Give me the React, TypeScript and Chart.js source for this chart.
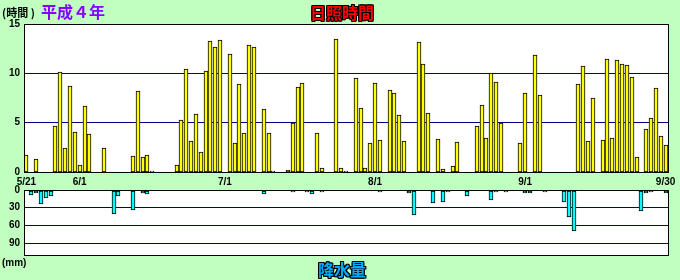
import React, { useEffect, useRef } from 'react';
import { Chart, registerables } from 'chart.js';
Chart.register(...registerables);

const _ = null;

// 日照時間 (hours) per day, 5/21 – 9/30
const sunMay = [1.7, _, 1.3, _, _, _, 4.7, 10.1, 2.4, 8.7, 4.1];
const sunJun = [0.7, 6.7, 3.9, _, _, 2.4, _, _, _, _, _, 1.6, 8.2, 1.5, 1.7, 0.1, _, _, _, _, 0.7, 5.3, 10.4, 3.1, 5.9, 2.0, 10.2, 13.3, 12.7, 13.4];
const sunJul = [_, 12.0, 2.9, 8.9, 4.0, 12.9, 12.7, _, 6.4, 4.0, 0.1, _, _, 0.2, 5.0, 8.6, 9.0, _, _, 4.0, 0.4, _, _, 13.5, 0.4, 0.1, _, 9.5, 6.5, 0.4, 2.9];
const sunAug = [9.0, 3.2, _, 8.3, 8.0, 5.8, 3.1, _, _, 13.2, 10.9, 6.0, _, 3.3, 0.3, _, 0.6, 3.0, _, _, _, 4.7, 6.8, 3.4, 10.0, 9.1, 5.0, _, _, _, 2.9];
const sunSep = [8.0, _, 11.9, 7.8, _, _, _, _, _, _, _, 8.9, 10.7, 3.1, 7.5, _, 3.2, 11.5, 3.4, 11.4, 10.9, 10.8, 9.6, 1.5, _, 4.4, 5.5, 8.5, 3.6, 2.7];

// 降水量 (mm) per day
const rainMay = [_, 8, 5, 23, 14, 10, _, _, _, _, _];
const rainJun = [_, _, _, _, 2, _, 2, 40, 10, _, 2, 33, _, 5, 7, _, _, _, _, _, _, _, _, _, _, _, _, _, _, _];
const rainJul = [_, _, _, _, 2, _, _, _, 7, _, _, _, _, _, 4, _, _, 4, 7, _, 4, 2, _, _, 2, 2, 2, _, _, _, 2];
const rainAug = [_, 4, _, _, _, _, 2, 5, 43, _, _, _, 22, 2, 20, 4, _, _, _, 10, _, _, _, _, 17, 4, _, 4, _, _, _];
const rainSep = [5, 5, _, 2, 4, _, _, _, 20, 45, 69, _, _, _, _, _, _, _, _, _, _, _, _, 2, 35, 5, 4, _, _, 5];

const monthNums = [5, 6, 7, 8, 9];
const monthStartDays = [21, 1, 1, 1, 1];
const shownLabels = ['5/21', '6/1', '7/1', '8/1', '9/1', '9/30'];
const sunTicks = [0, 5, 10, 15];
const rainTicks = [0, 30, 60, 90];

const sunMonths = [sunMay, sunJun, sunJul, sunAug, sunSep];
const rainMonths = [rainMay, rainJun, rainJul, rainAug, rainSep];
const labels: string[] = [];
sunMonths.forEach((arr, m) => arr.forEach((_v, k) => labels.push(`${monthNums[m]}/${monthStartDays[m] + k}`)));
const sunshine = sunMonths.flat();
const rain = rainMonths.flat();

const BAR_W = 4;

const framePlugin = {
  id: 'frame',
  beforeDraw(chart: any) {
    const { ctx, chartArea: a } = chart;
    ctx.save();
    ctx.fillStyle = '#FFFFFF';
    ctx.fillRect(a.left, a.top, a.right - a.left, a.bottom - a.top);
    ctx.restore();
  },
  beforeDatasetsDraw(chart: any) {
    // snap the library-computed bar rectangles to whole pixels for crisp edges
    chart.data.datasets.forEach((_d: any, di: number) => {
      chart.getDatasetMeta(di).data.forEach((el: any) => {
        if (el.skip) return;
        el.x = Math.round(el.x - BAR_W / 2) + BAR_W / 2;
        el.y = Math.round(el.y);
        el.base = Math.round(el.base);
      });
    });
  },
  afterDatasetsDraw(chart: any) {
    const { ctx, chartArea: a } = chart;
    ctx.save();
    ctx.strokeStyle = '#000000';
    ctx.lineWidth = 1;
    ctx.strokeRect(Math.round(a.left) + 0.5, Math.round(a.top) + 0.5, Math.round(a.right - a.left), Math.round(a.bottom - a.top));
    ctx.restore();
  },
};

const tickFont = { family: '"Liberation Sans", Arial, sans-serif', size: 10, weight: 'bold' as const };
const outline =
  '1px 0 0 #000, -1px 0 0 #000, 0 1px 0 #000, 0 -1px 0 #000, 1px 1px 0 #000, -1px -1px 0 #000, 1px -1px 0 #000, -1px 1px 0 #000';

export default function App() {
  const topRef = useRef<HTMLCanvasElement>(null);
  const botRef = useRef<HTMLCanvasElement>(null);

  useEffect(() => {
    const gridColor = (c: any) => (c.tick && c.tick.value !== 0 && c.tick.value !== 15 ? '#000080' : 'rgba(0,0,0,0)');
    const top = new Chart(topRef.current as HTMLCanvasElement, {
      type: 'bar',
      data: {
        labels,
        datasets: [
          {
            data: sunshine as any,
            backgroundColor: '#FFFF00',
            borderColor: '#000000',
            borderWidth: 1,
            borderSkipped: false,
            barThickness: BAR_W,
          },
        ],
      },
      options: {
        animation: false,
        responsive: false,
        layout: { padding: { top: 24, right: 12, left: 0, bottom: 0 } },
        plugins: { legend: { display: false }, tooltip: { enabled: false } },
        scales: {
          x: {
            grid: { display: false, drawTicks: false },
            border: { display: false },
            ticks: {
              autoSkip: false,
              maxRotation: 0,
              minRotation: 0,
              padding: 4,
              color: '#000',
              font: tickFont,
              callback: (_v: any, i: number) => (shownLabels.includes(labels[i]) ? labels[i] : ''),
            },
            afterFit: (s: any) => {
              s.height = 18;
            },
          },
          y: {
            min: 0,
            max: 15,
            afterBuildTicks: (s: any) => {
              s.ticks = sunTicks.map((v) => ({ value: v }));
            },
            ticks: { padding: 4, color: '#000', font: tickFont },
            grid: { color: gridColor, drawTicks: false, lineWidth: 1 },
            border: { display: false },
            afterFit: (s: any) => {
              s.width = 24;
            },
          },
        },
      },
      plugins: [framePlugin],
    } as any);

    const bot = new Chart(botRef.current as HTMLCanvasElement, {
      type: 'bar',
      data: {
        labels,
        datasets: [
          {
            data: rain as any,
            backgroundColor: '#00FFFF',
            borderColor: '#000000',
            borderWidth: 1,
            borderSkipped: false,
            barThickness: BAR_W,
          },
        ],
      },
      options: {
        animation: false,
        responsive: false,
        layout: { padding: { top: 9, right: 12, left: 0, bottom: 25 } },
        plugins: { legend: { display: false }, tooltip: { enabled: false } },
        scales: {
          x: { display: false },
          y: {
            min: 0,
            max: 110,
            reverse: true,
            afterBuildTicks: (s: any) => {
              s.ticks = rainTicks.map((v) => ({ value: v }));
            },
            ticks: { padding: 4, color: '#000', font: tickFont },
            grid: { color: gridColor, drawTicks: false, lineWidth: 1 },
            border: { display: false },
            afterFit: (s: any) => {
              s.width = 24;
            },
          },
        },
      },
      plugins: [framePlugin],
    } as any);

    return () => {
      top.destroy();
      bot.destroy();
    };
  }, []);

  const jp = '"Noto Sans CJK JP", sans-serif';
  return (
    <div
      style={{
        position: 'fixed',
        left: 0,
        top: 0,
        width: 680,
        height: 280,
        background: '#C0FFC0',
        overflow: 'hidden',
      }}
    >
      <canvas ref={topRef} width={680} height={190} style={{ position: 'absolute', left: 0, top: 0 }} />
      <canvas ref={botRef} width={680} height={100} style={{ position: 'absolute', left: 0, top: 180 }} />
      <div style={{ position: 'absolute', left: 2, top: 6, fontFamily: jp, fontSize: 11, fontWeight: 700, lineHeight: '12px', color: '#000', whiteSpace: 'pre' }}>
        (時間 )
      </div>
      <div style={{ position: 'absolute', left: 41, top: 3, fontFamily: jp, fontSize: 16, fontWeight: 700, lineHeight: '16px', color: '#8800FF', whiteSpace: 'pre' }}>
        平成４年
      </div>
      <div
        style={{
          position: 'absolute',
          left: 342,
          top: 4,
          transform: 'translateX(-50%)',
          fontFamily: jp,
          fontSize: 16,
          fontWeight: 700,
          lineHeight: '16px',
          color: '#FF0000',
          textShadow: outline,
          whiteSpace: 'pre',
        }}
      >
        日照時間
      </div>
      <div
        style={{
          position: 'absolute',
          left: 342,
          top: 261,
          transform: 'translateX(-50%)',
          fontFamily: jp,
          fontSize: 16,
          fontWeight: 700,
          lineHeight: '16px',
          color: '#00AAFF',
          textShadow: outline,
          whiteSpace: 'pre',
        }}
      >
        降水量
      </div>
      <div style={{ position: 'absolute', left: 2, top: 257, fontFamily: '"Liberation Sans", Arial, sans-serif', fontSize: 10, fontWeight: 700, lineHeight: '11px', color: '#000', whiteSpace: 'pre' }}>
        (mm)
      </div>
    </div>
  );
}
